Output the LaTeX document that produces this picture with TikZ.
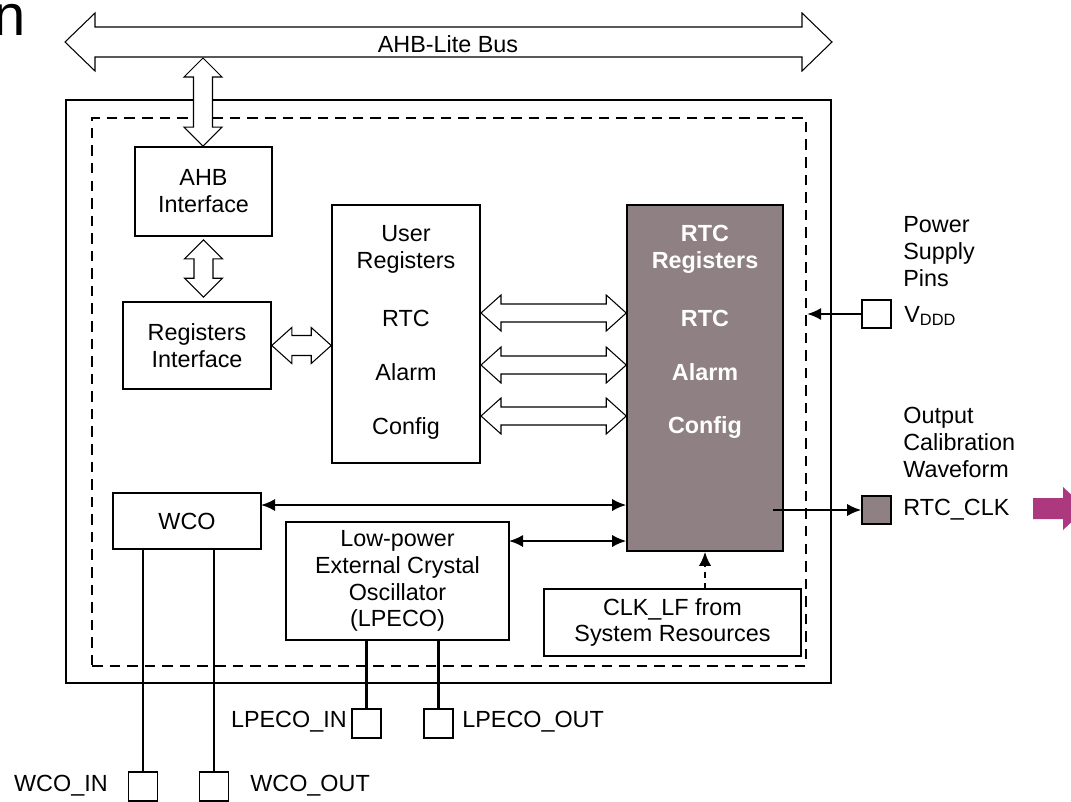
\documentclass[tikz,border=0pt]{standalone}
\usepackage{fontspec}
\setmainfont{Liberation Sans}
\usetikzlibrary{calc,positioning,arrows.meta}

\definecolor{rtcgray}{RGB}{142,128,131}
\definecolor{clkmagenta}{RGB}{172,56,125}

\tikzset{
  blk/.style={draw, line width=0.9pt, align=center, inner sep=0pt},
  pinbox/.style={draw, line width=0.9pt, minimum width=0.58cm, minimum height=0.57cm, inner sep=0pt},
  lbl/.style={inner sep=0pt, align=left},
  fatarrow/.style={draw, fill=white, line width=0.6pt, line join=miter},
  sigline/.style={line width=1.2pt},
  biline/.style={sigline, {Latex[length=8pt,width=7pt]}-{Latex[length=8pt,width=7pt]}},
  oneline/.style={sigline, -{Latex[length=8pt,width=7pt]}},
}

% fat double arrows: tip, tip, head length, head half width, shaft half width
\newcommand{\hbiarrow}[5]{%
  \path[fatarrow] #1 -- ($#1+(#3,-#4)$) -- ($#1+(#3,-#5)$) -- ($#2+(-#3,-#5)$)
    -- ($#2+(-#3,-#4)$) -- #2 -- ($#2+(-#3,#4)$) -- ($#2+(-#3,#5)$)
    -- ($#1+(#3,#5)$) -- ($#1+(#3,#4)$) -- cycle;}
\newcommand{\vbiarrow}[5]{%
  \path[fatarrow] #1 -- ($#1+(#4,#3)$) -- ($#1+(#5,#3)$) -- ($#2+(#5,-#3)$)
    -- ($#2+(#4,-#3)$) -- #2 -- ($#2+(-#4,-#3)$) -- ($#2+(-#5,-#3)$)
    -- ($#1+(-#5,#3)$) -- ($#1+(-#4,#3)$) -- cycle;}

\begin{document}
\fontsize{13.3}{15.3}\selectfont
\begin{tikzpicture}[x=0.02cm, y=-0.02cm]
  \useasboundingbox (0,0) rectangle (1071,801);

  \node[font=\fontsize{33}{36}\selectfont, anchor=base east, inner sep=0pt] (ttl) at (26,35) {n};

  % frames
  \node[draw, line width=1.5pt, minimum width=15.3cm, minimum height=11.66cm, inner sep=0pt] (outer) at (448.5,391.5) {};
  \node[draw, line width=1.4pt, dash pattern=on 6pt off 4pt, minimum width=14.28cm, minimum height=10.96cm, inner sep=0pt] (core) at (449,392) {};

  % blocks
  \node[blk, minimum width=2.74cm, minimum height=1.78cm] (ahbif) at (203.5,191.5) {AHB\\Interface};
  \node[blk, minimum width=2.96cm, minimum height=1.74cm] (regif) at (197,345.5) {Registers\\Interface};
  \node[blk, minimum width=2.96cm, minimum height=5.16cm] (userreg) at (406,334) {};
  \node[blk, fill=rtcgray, minimum width=3.12cm, minimum height=6.92cm] (rtcreg) at (705,378) {};
  \node[blk, minimum width=2.96cm, minimum height=1.12cm] (wco) at (187,521) {WCO};
  \node[blk, minimum width=4.46cm, minimum height=2.36cm] (lpeco) at (397.5,581) {Low-power\\External Crystal\\Oscillator\\(LPECO)};
  \node[blk, minimum width=5.14cm, minimum height=1.34cm] (clklf) at (672.5,622.5) {CLK\_LF from\\System Resources};

  \node[lbl, align=center] (uhead) at (406,249.5) {User\\Registers};
  \node[lbl] (urtc) at (406,318) {RTC};
  \node[lbl] (ualarm) at (406,372) {Alarm};
  \node[lbl] (uconfig) at (406,428) {Config};

  \node[lbl, align=center, text=white, font=\bfseries] (rhead) at (705,249.5) {RTC\\Registers};
  \node[lbl, text=white, font=\bfseries] (rrtc) at (705,318) {RTC};
  \node[lbl, text=white, font=\bfseries] (ralarm) at (705,372) {Alarm};
  \node[lbl, text=white, font=\bfseries] (rconfig) at (705,428) {Config};

  % pins
  \node[pinbox] (vddpin) at (876.5,314) {};
  \node[pinbox, fill=rtcgray] (clkpin) at (876.5,510) {};
  \node[pinbox] (lpinpin) at (366.5,723.5) {};
  \node[pinbox] (lpoutpin) at (438.5,723.5) {};
  \node[pinbox] (wcoinpin) at (143,786.5) {};
  \node[pinbox] (wcooutpin) at (214,786.5) {};

  \node[lbl, anchor=north west] (pwrlbl) at (903,216) {Power\\Supply\\Pins};
  \node[lbl, anchor=west] (vddlbl) at (904,316) {V\textsubscript{DDD}};
  \node[lbl, anchor=north west] (outlbl) at (903,407) {Output\\Calibration\\Waveform};
  \node[lbl, anchor=west] (clklbl) at (903,510) {RTC\_CLK};
  \node[lbl, anchor=east] (lpinlbl) at (347,722) {LPECO\_IN};
  \node[lbl, anchor=west] (lpoutlbl) at (462,722) {LPECO\_OUT};
  \node[lbl, anchor=east] (wcoinlbl) at (108,786) {WCO\_IN};
  \node[lbl, anchor=west] (wcooutlbl) at (250,786) {WCO\_OUT};

  % bus
  \coordinate (busL) at (65,42);
  \coordinate (busR) at (832,42);
  \hbiarrow{(busL)}{(busR)}{30}{29}{15}
  \node[lbl] (buslbl) at (448,44) {AHB-Lite Bus};

  \coordinate (busdrop) at (203,58);
  \vbiarrow{(busdrop)}{(busdrop |- ahbif.north)}{19}{19}{9.5}
  \coordinate (ahbbot) at ([yshift=-0.06cm]ahbif.south);
  \coordinate (regtop) at ([yshift=0.08cm]ahbif.south |- regif.north);
  \vbiarrow{(ahbbot)}{(regtop)}{19}{19}{9.5}
  \hbiarrow{(regif.east)}{(regif.east -| userreg.west)}{20}{18}{10}

  \coordinate (ra1) at (481,313);
  \coordinate (ra2) at (481,365);
  \coordinate (ra3) at (481,416);
  \hbiarrow{(ra1)}{(ra1 -| rtcreg.west)}{20}{18}{9}
  \hbiarrow{(ra2)}{(ra2 -| rtcreg.west)}{20}{18}{9}
  \hbiarrow{(ra3)}{(ra3 -| rtcreg.west)}{20}{18}{9}

  % clocks
  \coordinate (wcoarr) at (261,505);
  \coordinate (lpecoarr) at (509,541);
  \draw[biline] (wcoarr) -- (wcoarr -| rtcreg.west);
  \draw[biline] (lpecoarr) -- (lpecoarr -| rtcreg.west);
  \draw[oneline, dashed] (rtcreg.south |- clklf.north) -- (rtcreg.south);
  \draw[oneline] (vddpin.west) -- (vddpin.west -| core.east);
  \coordinate (clkout) at (773,510);
  \draw[oneline] (clkout) -- (clkpin.west);

  \draw[sigline] (wcoinpin.north) -- (wcoinpin.north |- wco.south);
  \draw[sigline] (wcooutpin.north) -- (wcooutpin.north |- wco.south);
  \draw[sigline] (lpinpin.north) -- (lpinpin.north |- lpeco.south);
  \draw[sigline] (lpoutpin.north) -- (lpoutpin.north |- lpeco.south);

  \fill[clkmagenta] (1033,498) -- (1063,498) -- (1063,487) -- (1086,508.5)
    -- (1063,530) -- (1063,519) -- (1033,519) -- cycle;
\end{tikzpicture}
\end{document}
